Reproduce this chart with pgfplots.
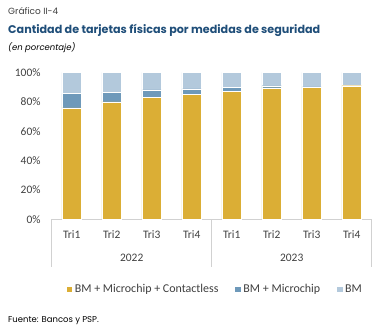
\documentclass[border=0pt]{standalone}
\usepackage{pgfplots}
\pgfplotsset{compat=1.18}
\usepackage{fontspec}
\setmainfont{Carlito}
\newfontfamily\pop{Poppins}
\definecolor{cy}{HTML}{DBAE35}
\definecolor{cm}{HTML}{6E99BA}
\definecolor{cl}{HTML}{B3C9DC}
\definecolor{ctitle}{HTML}{1F4E79}
\definecolor{ctxt}{HTML}{404040}
\begin{document}
\begin{tikzpicture}
\path[use as bounding box] (0bp,0bp) rectangle (383bp,331bp);
\node[anchor=base west,inner sep=0pt,text=ctxt,font=\pop\fontsize{9}{10}\selectfont] at (8bp,316.7bp) {Gráfico II-4};
\node[anchor=base west,inner sep=0pt,text=ctitle,font=\pop\bfseries\fontsize{11.2}{12}\selectfont] at (8bp,297.7bp) {Cantidad de tarjetas físicas por medidas de seguridad};
\node[anchor=base west,inner sep=0pt,text=black,font=\pop\itshape\fontsize{8.5}{10}\selectfont] at (8bp,280.5bp) {(en porcentaje)};
\node[anchor=base west,inner sep=0pt,text=black,font=\pop\fontsize{8.5}{10}\selectfont] at (8bp,9bp) {Fuente: Bancos y PSP.};
\begin{axis}[
  at={(51.7bp,111.5bp)}, anchor=south west,
  scale only axis, width=320bp, height=147bp,
  ybar stacked, bar width=19.5bp,
  xmin=-0.5, xmax=7.5, ymin=0, ymax=100,
  xtick={0,...,7}, xticklabels={Tri1,Tri2,Tri3,Tri4,Tri1,Tri2,Tri3,Tri4},
  ytick={0,20,...,100},
  yticklabel={\pgfmathprintnumber{\tick}\%},
  /pgf/number format/assume math mode=true,
  major tick length=0pt,
  axis x line*=bottom, axis y line*=left,
  y axis line style={draw=none},
  x axis line style={draw=black!18, line width=0.8pt},
  tick label style={font=\fontsize{11.5}{12}\selectfont, text=ctxt},
  xticklabel style={anchor=center, yshift=-15.5bp},
  yticklabel style={anchor=east, inner sep=0pt, xshift=-11bp},
  clip=false,
  legend style={at={(0.51,-0.475)}, anchor=center, draw=none, legend columns=3,
     font=\fontsize{12}{13}\selectfont, text=ctxt, inner sep=0pt,
     /tikz/every even column/.append style={column sep=14bp}},
  legend image code/.code={\fill[#1] (0bp,-3.3bp) rectangle (6.6bp,3.3bp);},
]
\addplot[fill=cy, draw=white, line width=0.4pt] coordinates {(0,76) (1,80) (2,83.3) (3,85) (4,87) (5,89.5) (6,90) (7,91)};
\addplot[fill=cm, draw=white, line width=0.4pt] coordinates {(0,9.6) (1,6.6) (2,4.8) (3,3.8) (4,3.1) (5,1.5) (6,0.3) (7,0.1)};
\addplot[fill=cl, draw=white, line width=0.4pt] coordinates {(0,14.4) (1,13.4) (2,11.9) (3,11.2) (4,9.9) (5,9) (6,9.7) (7,8.9)};
\legend{BM + Microchip + Contactless, BM + Microchip, BM}
\draw[black!18, line width=0.8pt] (axis cs:-0.5,0) -- ++(0bp,-47.2bp);
\draw[black!18, line width=0.8pt] (axis cs:3.5,0) -- ++(0bp,-47.2bp);
\draw[black!18, line width=0.8pt] (axis cs:7.5,0) -- ++(0bp,-47.2bp);
\node[text=ctxt, font=\fontsize{11.5}{12}\selectfont] at ([yshift=-38.5bp]axis cs:1.5,0) {2022};
\node[text=ctxt, font=\fontsize{11.5}{12}\selectfont] at ([yshift=-38.5bp]axis cs:5.5,0) {2023};
\end{axis}
\end{tikzpicture}
\end{document}
